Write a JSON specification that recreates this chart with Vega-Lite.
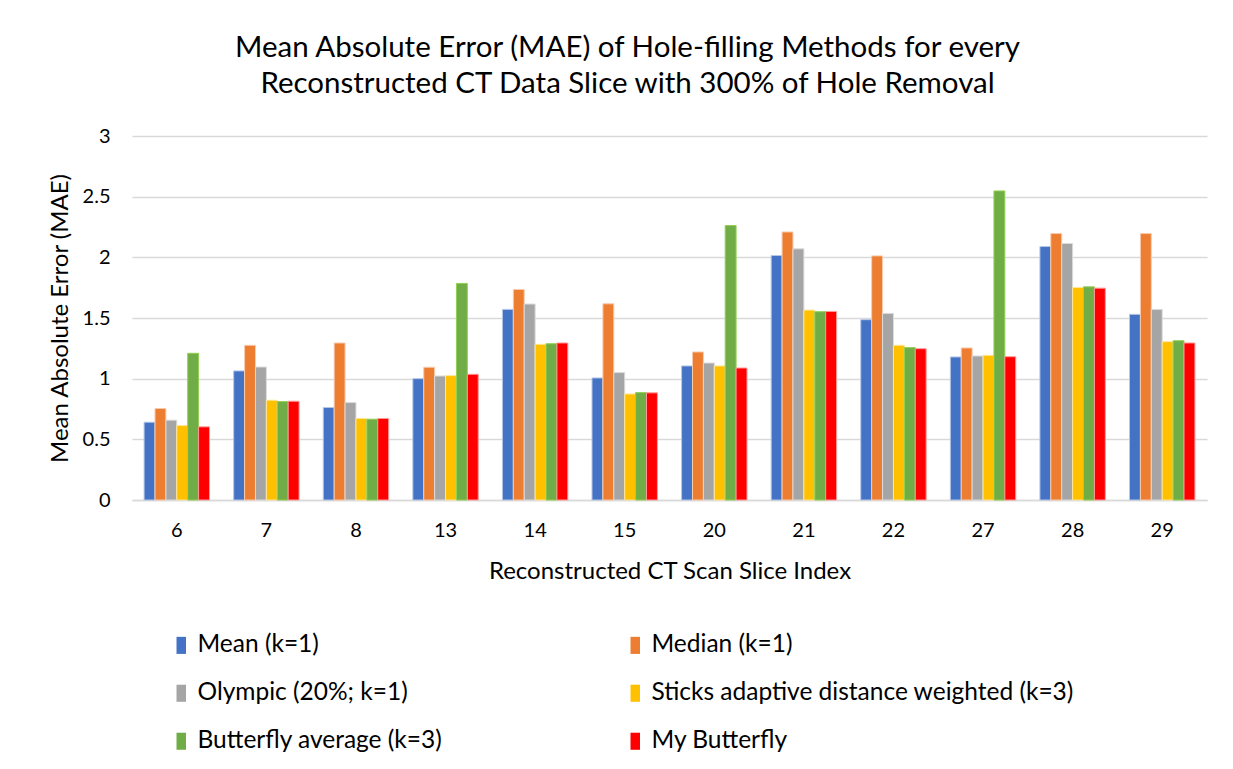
{
  "$schema": "https://vega.github.io/schema/vega-lite/v6.json",
  "autosize": {"type": "none"},
  "padding": {"left": 132, "top": 136, "right": 26, "bottom": 269},
  "width": 1075,
  "height": 364,
  "background": "white",
  "title": {
    "text": ["Mean Absolute Error (MAE) of Hole-filling Methods for every", "Reconstructed CT Data Slice with 300% of Hole Removal"],
    "font": "Lato",
    "fontSize": 29.5,
    "fontWeight": "normal",
    "color": "#000000",
    "lineHeight": 36,
    "anchor": "middle",
    "frame": "bounds",
    "offset": 27
  },
  "data": {
    "values": [
      {"slice": "6", "method": "Mean (k=1)", "mae": 0.641},
      {"slice": "6", "method": "Median (k=1)", "mae": 0.754},
      {"slice": "6", "method": "Olympic (20%; k=1)", "mae": 0.658},
      {"slice": "6", "method": "Sticks adaptive distance weighted (k=3)", "mae": 0.614},
      {"slice": "6", "method": "Butterfly average (k=3)", "mae": 1.209},
      {"slice": "6", "method": "My Butterfly", "mae": 0.603},
      {"slice": "7", "method": "Mean (k=1)", "mae": 1.064},
      {"slice": "7", "method": "Median (k=1)", "mae": 1.275},
      {"slice": "7", "method": "Olympic (20%; k=1)", "mae": 1.096},
      {"slice": "7", "method": "Sticks adaptive distance weighted (k=3)", "mae": 0.822},
      {"slice": "7", "method": "Butterfly average (k=3)", "mae": 0.811},
      {"slice": "7", "method": "My Butterfly", "mae": 0.814},
      {"slice": "8", "method": "Mean (k=1)", "mae": 0.762},
      {"slice": "8", "method": "Median (k=1)", "mae": 1.294},
      {"slice": "8", "method": "Olympic (20%; k=1)", "mae": 0.803},
      {"slice": "8", "method": "Sticks adaptive distance weighted (k=3)", "mae": 0.672},
      {"slice": "8", "method": "Butterfly average (k=3)", "mae": 0.666},
      {"slice": "8", "method": "My Butterfly", "mae": 0.672},
      {"slice": "13", "method": "Mean (k=1)", "mae": 1.0},
      {"slice": "13", "method": "Median (k=1)", "mae": 1.094},
      {"slice": "13", "method": "Olympic (20%; k=1)", "mae": 1.022},
      {"slice": "13", "method": "Sticks adaptive distance weighted (k=3)", "mae": 1.025},
      {"slice": "13", "method": "Butterfly average (k=3)", "mae": 1.785},
      {"slice": "13", "method": "My Butterfly", "mae": 1.036},
      {"slice": "14", "method": "Mean (k=1)", "mae": 1.571},
      {"slice": "14", "method": "Median (k=1)", "mae": 1.735},
      {"slice": "14", "method": "Olympic (20%; k=1)", "mae": 1.615},
      {"slice": "14", "method": "Sticks adaptive distance weighted (k=3)", "mae": 1.283},
      {"slice": "14", "method": "Butterfly average (k=3)", "mae": 1.288},
      {"slice": "14", "method": "My Butterfly", "mae": 1.294},
      {"slice": "15", "method": "Mean (k=1)", "mae": 1.006},
      {"slice": "15", "method": "Median (k=1)", "mae": 1.617},
      {"slice": "15", "method": "Olympic (20%; k=1)", "mae": 1.05},
      {"slice": "15", "method": "Sticks adaptive distance weighted (k=3)", "mae": 0.874},
      {"slice": "15", "method": "Butterfly average (k=3)", "mae": 0.885},
      {"slice": "15", "method": "My Butterfly", "mae": 0.883},
      {"slice": "20", "method": "Mean (k=1)", "mae": 1.105},
      {"slice": "20", "method": "Median (k=1)", "mae": 1.22},
      {"slice": "20", "method": "Olympic (20%; k=1)", "mae": 1.129},
      {"slice": "20", "method": "Sticks adaptive distance weighted (k=3)", "mae": 1.105},
      {"slice": "20", "method": "Butterfly average (k=3)", "mae": 2.262},
      {"slice": "20", "method": "My Butterfly", "mae": 1.088},
      {"slice": "21", "method": "Mean (k=1)", "mae": 2.015},
      {"slice": "21", "method": "Median (k=1)", "mae": 2.209},
      {"slice": "21", "method": "Olympic (20%; k=1)", "mae": 2.07},
      {"slice": "21", "method": "Sticks adaptive distance weighted (k=3)", "mae": 1.565},
      {"slice": "21", "method": "Butterfly average (k=3)", "mae": 1.552},
      {"slice": "21", "method": "My Butterfly", "mae": 1.554},
      {"slice": "22", "method": "Mean (k=1)", "mae": 1.486},
      {"slice": "22", "method": "Median (k=1)", "mae": 2.012},
      {"slice": "22", "method": "Olympic (20%; k=1)", "mae": 1.538},
      {"slice": "22", "method": "Sticks adaptive distance weighted (k=3)", "mae": 1.275},
      {"slice": "22", "method": "Butterfly average (k=3)", "mae": 1.256},
      {"slice": "22", "method": "My Butterfly", "mae": 1.247},
      {"slice": "27", "method": "Mean (k=1)", "mae": 1.179},
      {"slice": "27", "method": "Median (k=1)", "mae": 1.253},
      {"slice": "27", "method": "Olympic (20%; k=1)", "mae": 1.187},
      {"slice": "27", "method": "Sticks adaptive distance weighted (k=3)", "mae": 1.192},
      {"slice": "27", "method": "Butterfly average (k=3)", "mae": 2.547},
      {"slice": "27", "method": "My Butterfly", "mae": 1.181},
      {"slice": "28", "method": "Mean (k=1)", "mae": 2.089},
      {"slice": "28", "method": "Median (k=1)", "mae": 2.196},
      {"slice": "28", "method": "Olympic (20%; k=1)", "mae": 2.114},
      {"slice": "28", "method": "Sticks adaptive distance weighted (k=3)", "mae": 1.752},
      {"slice": "28", "method": "Butterfly average (k=3)", "mae": 1.757},
      {"slice": "28", "method": "My Butterfly", "mae": 1.746},
      {"slice": "29", "method": "Mean (k=1)", "mae": 1.53},
      {"slice": "29", "method": "Median (k=1)", "mae": 2.196},
      {"slice": "29", "method": "Olympic (20%; k=1)", "mae": 1.571},
      {"slice": "29", "method": "Sticks adaptive distance weighted (k=3)", "mae": 1.305},
      {"slice": "29", "method": "Butterfly average (k=3)", "mae": 1.313},
      {"slice": "29", "method": "My Butterfly", "mae": 1.294}
    ]
  },
  "mark": {"type": "bar", "strokeWidth": 1},
  "encoding": {
    "x": {
      "field": "slice",
      "type": "nominal",
      "sort": null,
      "scale": {"paddingInner": 0.27, "paddingOuter": 0.135},
      "axis": {
        "title": "Reconstructed CT Scan Slice Index",
        "labelAngle": 0,
        "labelFont": "Lato",
        "labelFontSize": 20,
        "labelColor": "#000000",
        "labelPadding": 20,
        "titleFont": "Lato",
        "titleFontSize": 24,
        "titleFontWeight": "normal",
        "titleColor": "#000000",
        "titlePadding": 19,
        "ticks": false,
        "domainColor": "#D9D9D9",
        "domainWidth": 1.5
      }
    },
    "xOffset": {
      "field": "method",
      "type": "nominal",
      "sort": null,
      "scale": {"paddingInner": 0, "paddingOuter": 0}
    },
    "y": {
      "field": "mae",
      "type": "quantitative",
      "scale": {"domain": [0, 3], "nice": false},
      "axis": {
        "title": "Mean Absolute Error (MAE)",
        "values": [0, 0.5, 1, 1.5, 2, 2.5, 3],
        "format": "~g",
        "labelFont": "Lato",
        "labelFontSize": 20,
        "labelColor": "#000000",
        "labelPadding": 22,
        "titleFont": "Lato",
        "titleFontSize": 24,
        "titleFontWeight": "normal",
        "titleColor": "#000000",
        "titlePadding": 10,
        "ticks": false,
        "domain": false,
        "gridColor": "#D9D9D9",
        "gridWidth": 1.5
      }
    },
    "color": {
      "field": "method",
      "type": "nominal",
      "sort": null,
      "scale": {
        "domain": ["Mean (k=1)", "Olympic (20%; k=1)", "Butterfly average (k=3)", "Median (k=1)", "Sticks adaptive distance weighted (k=3)", "My Butterfly"],
        "range": ["#4472C4", "#A5A5A5", "#70AD47", "#ED7D31", "#FFC000", "#FF0000"]
      },
      "legend": {
        "title": null,
        "orient": "none",
        "legendX": 37,
        "legendY": 497,
        "columns": 2,
        "columnPadding": 180,
        "rowPadding": 23,
        "symbolType": "M-0.5,-0.9L0.5,-0.9L0.5,0.9L-0.5,0.9Z",
        "symbolSize": 360,
        "symbolStrokeWidth": 0,
        "labelFont": "Lato",
        "labelFontSize": 24.5,
        "labelColor": "#000000",
        "labelLimit": 600,
        "labelOffset": 4
      }
    },
    "stroke": {
      "field": "method",
      "type": "nominal",
      "sort": null,
      "scale": {
        "domain": ["Mean (k=1)", "Median (k=1)", "Olympic (20%; k=1)", "Sticks adaptive distance weighted (k=3)", "Butterfly average (k=3)", "My Butterfly"],
        "range": ["#B4C7E7", "#F8CBAD", "#DBDBDB", "#FFE699", "#92D050", "#FF9999"]
      },
      "legend": null
    }
  },
  "config": {
    "view": {"stroke": null}
  }
}
